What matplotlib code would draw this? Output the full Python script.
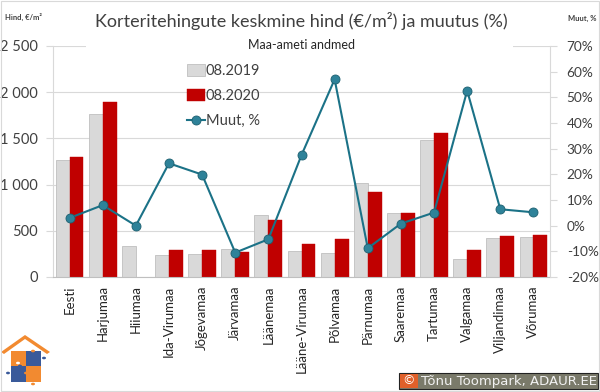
import numpy as np
import matplotlib
matplotlib.use("Agg")
import matplotlib.pyplot as plt
from matplotlib.patches import Rectangle, Circle, Polygon

plt.rcParams['font.family'] = ['Lato', 'DejaVu Sans']

regions = ["Eesti", "Harjumaa", "Hiiumaa", "Ida-Virumaa", "Jõgevamaa", "Järvamaa",
           "Läänemaa", "Lääne-Virumaa", "Põlvamaa", "Pärnumaa", "Saaremaa",
           "Tartumaa", "Valgamaa", "Viljandimaa", "Võrumaa"]
price_2019 = [1266, 1764, 332, 238, 249, 300, 667, 281, 263, 1014, 689, 1483, 191, 419, 433]
price_2020 = [1302, 1897, np.nan, 292, 292, 271, 620, 361, 408, 920, 689, 1558, 292, 447, 455]
change_pct = [3.0, 8.0, 0.0, 24.3, 19.9, -10.5, -5.3, 27.5, 57.0, -8.8, 0.8, 5.1, 52.6, 6.4, 5.2]

W, H = 600, 392
fig = plt.figure(figsize=(W / 100, H / 100), dpi=100)

def fx(px):
    return px / W

def fy(py):
    return 1 - py / H

L, R, T, B = 53, 550, 46, 277
ax = fig.add_axes([fx(L), fy(B), (R - L) / W, (B - T) / H])
x = np.arange(len(regions))
bw = 0.42
ax.bar(x - bw / 2, price_2019, bw, color='#d9d9d9', edgecolor='#bfbfbf', linewidth=0.6, label='08.2019')
ax.bar(x + bw / 2, price_2020, bw, color='#c00000', edgecolor='#c00000', linewidth=0.3, label='08.2020')
ax.set_xlim(-0.5, len(regions) - 0.5)
ax.set_ylim(0, 2500)
ax.set_yticks(np.arange(0, 2501, 500))
ax.set_yticklabels([f"{v:,}".replace(",", " ") for v in range(0, 2501, 500)])
ax.yaxis.grid(True, color='#d9d9d9', linewidth=0.8)
ax.set_axisbelow(True)
ax.set_xticks(x)
ax.set_xticklabels(regions, rotation=90, fontsize=9.5, color='#262626')
ax.tick_params(axis='x', length=0, pad=6)
ax.tick_params(axis='y', length=5, color='#d9d9d9', width=0.8, pad=6, labelsize=10.5, labelcolor='#404040')
for s in ['top', 'right']:
    ax.spines[s].set_visible(False)
ax.spines['left'].set_color('#d9d9d9')
ax.spines['bottom'].set_color('#bfbfbf')

ax2 = ax.twinx()
ax2.plot(x, change_pct, color='#1b7287', linewidth=1.5, marker='o', markersize=6.5,
         markerfacecolor='#2e8299', markeredgecolor='#1d6070', markeredgewidth=0.6, label='Muut, %')
ax2.set_ylim(-20, 70)
ax2.set_yticks(np.arange(-20, 71, 10))
ax2.set_yticklabels([f"{v}%" for v in range(-20, 71, 10)])
ax2.tick_params(axis='y', length=5, color='#d9d9d9', width=0.8, pad=7, labelsize=9.8, labelcolor='#404040')
for s in ['top', 'left', 'bottom']:
    ax2.spines[s].set_visible(False)
ax2.spines['right'].set_color('#d9d9d9')

h1, l1 = ax.get_legend_handles_labels()
h2, l2 = ax2.get_legend_handles_labels()
leg = ax2.legend(h1 + h2, l1 + l2, loc='upper left', bbox_to_anchor=((187 - L) / (R - L), (B - 64) / (B - T)),
                 frameon=False, fontsize=10.5, labelcolor='#404040', handlelength=1.2, handleheight=0.9,
                 handletextpad=0.1, labelspacing=0.75, borderpad=0, borderaxespad=0)

# white box behind subtitle
fig.patches.append(Rectangle((fx(86), fy(53)), fx(513 - 86), 13 / H, transform=fig.transFigure,
                             facecolor='white', edgecolor='none', zorder=2))
fig.text(fx(301), fy(21), 'Korteritehingute keskmine hind (€/m²) ja muutus (%)', ha='center', va='center',
         fontsize=13, color='#404040', zorder=5)
fig.text(fx(301), fy(45), 'Maa-ameti andmed', ha='center', va='center', fontsize=9, color='#262626', zorder=5)
fig.text(fx(5), fy(17), 'Hind, €/m²', ha='left', va='center', fontsize=5.5, fontweight='bold', color='#404040')
fig.text(fx(597), fy(18), 'Muut, %', ha='right', va='center', fontsize=5.5, fontweight='bold', color='#404040')

# logo
def rect_px(x0, y0, w, h, **kw):
    return Rectangle((fx(x0), fy(y0 + h)), w / W, h / H, transform=fig.transFigure, **kw)

orange, blue = '#f28a30', '#3a5a9a'
fig.patches.append(Polygon([[fx(1), fy(352)], [fx(25), fy(335)], [fx(50), fy(352)], [fx(47), fy(354)],
                            [fx(25), fy(339)], [fx(4), fy(354)]], closed=True, transform=fig.transFigure,
                           facecolor=orange, edgecolor='none'))
fig.patches.append(rect_px(11, 351, 15, 15, facecolor=orange, edgecolor='none'))
fig.patches.append(rect_px(26, 351, 15, 15, facecolor=blue, edgecolor='none'))
fig.patches.append(rect_px(11, 366, 15, 16, facecolor=blue, edgecolor='none'))
fig.patches.append(rect_px(26, 366, 15, 16, facecolor=orange, edgecolor='none'))
for cx, cy, c in [(18, 363, 'white'), (33, 351, orange), (44, 358, blue), (8, 373, blue),
                  (26, 373, orange), (33, 384, orange), (20, 366, blue)]:
    fig.patches.append(Circle((fx(cx), fy(cy)), 2.0 / W, transform=fig.transFigure, facecolor=c,
                              edgecolor='none'))

# copyright box
fig.patches.append(rect_px(399, 373, 199, 16, facecolor='#7a7a6a', edgecolor='#222222', linewidth=0.8))
fig.patches.append(rect_px(400, 374, 18, 14, facecolor='#e0602a', edgecolor='none'))
fig.text(fx(409), fy(381), '©', ha='center', va='center', fontsize=9, color='white', family='DejaVu Sans')
fig.text(fx(421), fy(381), 'Tõnu Toompark, ADAUR.EE', ha='left', va='center', fontsize=9.5,
         color='#f2f2f2', family='DejaVu Sans')

# outer frame
fig.patches.append(Rectangle((0.5 / W, 1.5 / H), 1 - 2 / W, 1 - 2.5 / H, transform=fig.transFigure,
                             facecolor='none', edgecolor='#d9d9d9', linewidth=0.8))

fig.savefig('out.png', dpi=100)
